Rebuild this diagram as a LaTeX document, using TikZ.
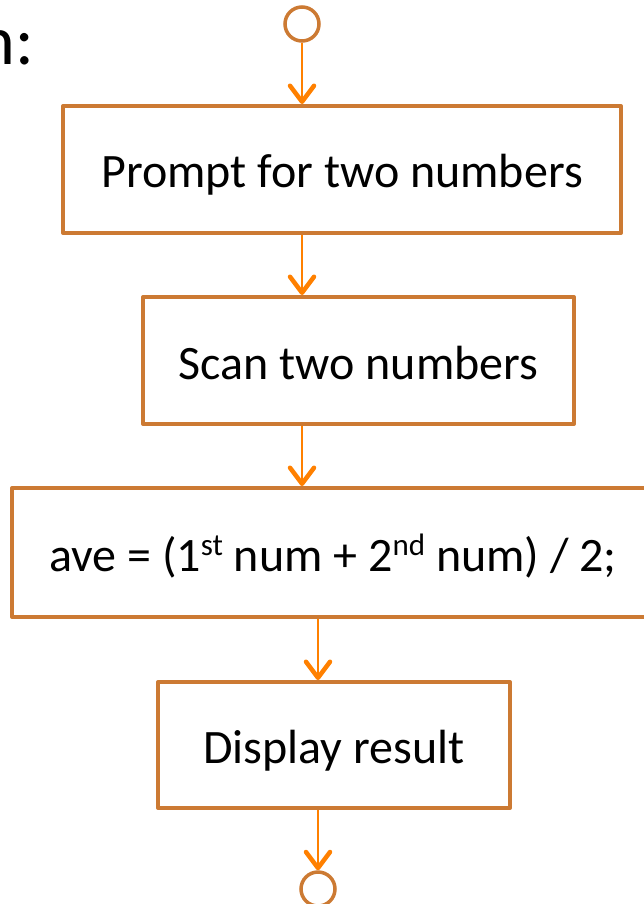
\documentclass[tikz,border=0pt]{standalone}
\usepackage{fontspec}
\setmainfont{Carlito}
\usetikzlibrary{arrows.meta}
\definecolor{boxorange}{RGB}{204,122,51}
\definecolor{arroworange}{RGB}{255,128,0}
% ordinal suffix, raised to the cap line
\newcommand\ordsuf[1]{\raisebox{16pt}{\fontsize{31}{31}\selectfont #1}}
\begin{document}
\begin{tikzpicture}[x=1pt,y=-1pt,
  stepbox/.style={draw=boxorange, line width=4pt, line join=round, fill=white,
    inner sep=0pt, text height=40pt, text depth=3pt, font=\fontsize{48}{58}\selectfont},
  terminal/.style={circle, draw=boxorange, line width=3.5pt, minimum size=34pt, inner sep=0pt},
  flow/.style={draw=arroworange, line width=2.5pt,
    -{Straight Barb[length=16pt,width=24pt,line width=4.5pt,round]}}
]
\useasboundingbox (0,0) rectangle (644,904);

% tail of the heading on the slide
\node[anchor=base east, inner sep=0pt, font=\fontsize{70}{84}\selectfont] (heading) at (34,65) {n:};

% start and end terminals
\node[terminal] (start) at (302,24) {};
\node[terminal] (stop) at (318,889) {};

% process steps
\node[stepbox, minimum width=558pt, minimum height=127pt] (prompt) at (342,169.5) {Prompt for two numbers};
\node[stepbox, minimum width=431pt, minimum height=127pt] (scan) at (358.5,360.5) {Scan two numbers};
\node[stepbox, minimum width=642pt, minimum height=129pt] (calc) at (333,552.5)
  {ave = (1\ordsuf{st} num + 2\ordsuf{nd} num) / 2;};
\node[stepbox, minimum width=352pt, minimum height=126pt] (show) at (334,745) {Display result};

% flow of control
\draw[flow] (start.south) -- (prompt.north -| start);
\draw[flow] (prompt.south -| start) -- (scan.north -| start);
\draw[flow] (scan.south -| start) -- (calc.north -| start);
\draw[flow] (calc.south -| stop) -- (show.north -| stop);
\draw[flow] (show.south -| stop) -- (stop.north);
\end{tikzpicture}
\end{document}
